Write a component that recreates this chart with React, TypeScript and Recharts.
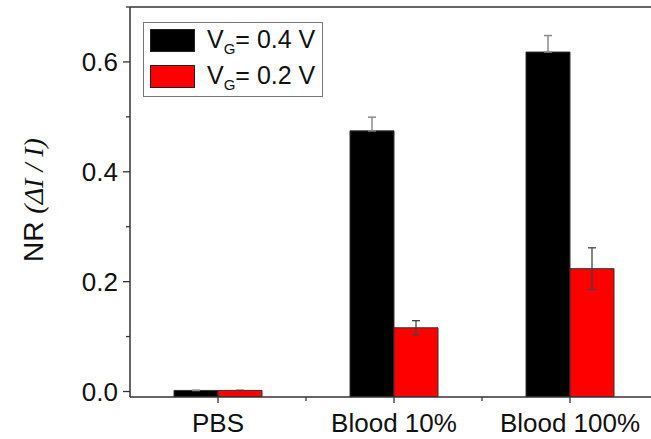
import React from 'react';
import { BarChart, Bar, XAxis, YAxis, ErrorBar, ReferenceLine, Legend } from 'recharts';

// ---- data ----
const categories = ['PBS', 'Blood 10%', 'Blood 100%'];
const vg04 = [0.002, 0.4745, 0.618];
const vg02 = [0.002, 0.116, 0.2236];
const err04 = [0, 0.025, 0.03];
const err02 = [0, 0.013, 0.038];
const seriesNames = ['0.4 V', '0.2 V'];
const yTicks = [0, 0.1, 0.2, 0.3, 0.4, 0.5, 0.6, 0.7];
const yMajor = [0, 0.2, 0.4, 0.6];
const Y_MIN = -0.01;
const Y_MAX = 0.7;

const data = categories.map((name, i) => ({
  name,
  v04: [Y_MIN, vg04[i]],
  v02: [Y_MIN, vg02[i]],
  e04: [0, err04[i]],
  e02: [err02[i], err02[i]],
}));

// ---- layout ----
const CHART_W = 670;
const CHART_H = 439;
const MARGIN = { top: 7, right: 12, left: 0, bottom: 0 };
const YAXIS_W = 130;
const XAXIS_H = 42;
const PLOT_W = CHART_W - MARGIN.left - MARGIN.right - YAXIS_W;
const BAND = PLOT_W / categories.length;
const AXIS = '#333';
const FONT = 'Arial, "Liberation Sans", Helvetica, sans-serif';

const YTick = (props: any) => {
  const { x, y, payload } = props;
  const v = payload.value;
  const major = yMajor.some((m) => Math.abs(m - v) < 1e-9);
  return (
    <g>
      <line x1={x - (major ? 7 : 4)} x2={x} y1={y} y2={y} stroke={AXIS} strokeWidth={1.3} />
      {major && (
        <text x={x - 12} y={y} dy={9} textAnchor="end" fontSize={26} fontFamily={FONT} fill="#111">
          {v.toFixed(1)}
        </text>
      )}
    </g>
  );
};

const XTick = (props: any) => {
  const { x, y, payload, index } = props;
  return (
    <g>
      <line x1={x} x2={x} y1={y} y2={y + 6} stroke={AXIS} strokeWidth={1.3} />
      {index < categories.length - 1 && (
        <line x1={x + BAND / 2} x2={x + BAND / 2} y1={y} y2={y + 4} stroke={AXIS} strokeWidth={1.3} />
      )}
      <text x={x} y={y + 35} textAnchor="middle" fontSize={26} fontFamily={FONT} fill="#111">
        {payload.value}
      </text>
    </g>
  );
};

const LegendBox = (props: any) => {
  const payload = (props.payload || [])
    .slice()
    .sort((a: any, b: any) => seriesNames.indexOf(a.value) - seriesNames.indexOf(b.value));
  return (
    <div
      style={{
        width: 180,
        height: 75,
        boxSizing: 'border-box',
        border: '1px solid #777',
        background: '#fff',
        paddingTop: 6,
        paddingLeft: 6,
        fontFamily: FONT,
        color: '#111',
      }}
    >
      {payload.map((p: any, i: number) => (
        <div key={i} style={{ display: 'flex', alignItems: 'center', height: 23, marginBottom: i === 0 ? 13 : 0 }}>
          <div style={{ width: 45, height: 23, boxSizing: 'border-box', background: p.color, border: '1px solid #222' }} />
          <div style={{ marginLeft: 12, fontSize: 25, lineHeight: '23px', whiteSpace: 'nowrap' }}>
            V<span style={{ fontSize: 15, position: 'relative', top: 6 }}>G</span>= {p.value}
          </div>
        </div>
      ))}
    </div>
  );
};

export default function App() {
  return (
    <div style={{ position: 'absolute', left: 0, top: 0, width: 651, height: 439, overflow: 'hidden', background: '#fff' }}>
      <BarChart
        width={CHART_W}
        height={CHART_H}
        data={data}
        margin={MARGIN}
        barCategoryGap="25%"
        barGap={0}
      >
        <XAxis
          dataKey="name"
          height={XAXIS_H}
          tickSize={0}
          tickMargin={0}
          tickLine={false}
          axisLine={{ stroke: AXIS, strokeWidth: 1.5 }}
          tick={<XTick />}
          interval={0}
        />
        <YAxis
          width={YAXIS_W}
          type="number"
          domain={[Y_MIN, Y_MAX]}
          allowDataOverflow
          ticks={yTicks}
          interval={0}
          tickSize={0}
          tickMargin={0}
          tickLine={false}
          axisLine={{ stroke: AXIS, strokeWidth: 1.5 }}
          tick={<YTick />}
          label={() => (
            <text transform="translate(43,200) rotate(-90)" textAnchor="middle" fill="#111">
              <tspan fontFamily={FONT} fontSize={28}>NR </tspan>
              <tspan fontFamily='"Liberation Serif", "Times New Roman", serif' fontStyle="italic" fontSize={28}>
                (ΔI / I)
              </tspan>
            </text>
          )}
        />
        <ReferenceLine y={Y_MAX} stroke={AXIS} strokeWidth={1.5} ifOverflow="extendDomain" />
        <Legend
          layout="horizontal"
          verticalAlign="middle"
          align="center"
          wrapperStyle={{ position: 'absolute', left: 143, top: 22, width: 180, height: 75 }}
          content={<LegendBox />}
        />
        <Bar dataKey="v04" name={seriesNames[0]} fill="#000" stroke="#333" strokeWidth={1} isAnimationActive={false}>
          <ErrorBar dataKey="e04" width={4} stroke="#888" strokeWidth={1.5} direction="y" />
        </Bar>
        <Bar dataKey="v02" name={seriesNames[1]} fill="#ff0000" stroke="#333" strokeWidth={1} isAnimationActive={false}>
          <ErrorBar dataKey="e02" width={4} stroke="#444" strokeWidth={1.3} direction="y" />
        </Bar>
      </BarChart>
    </div>
  );
}
